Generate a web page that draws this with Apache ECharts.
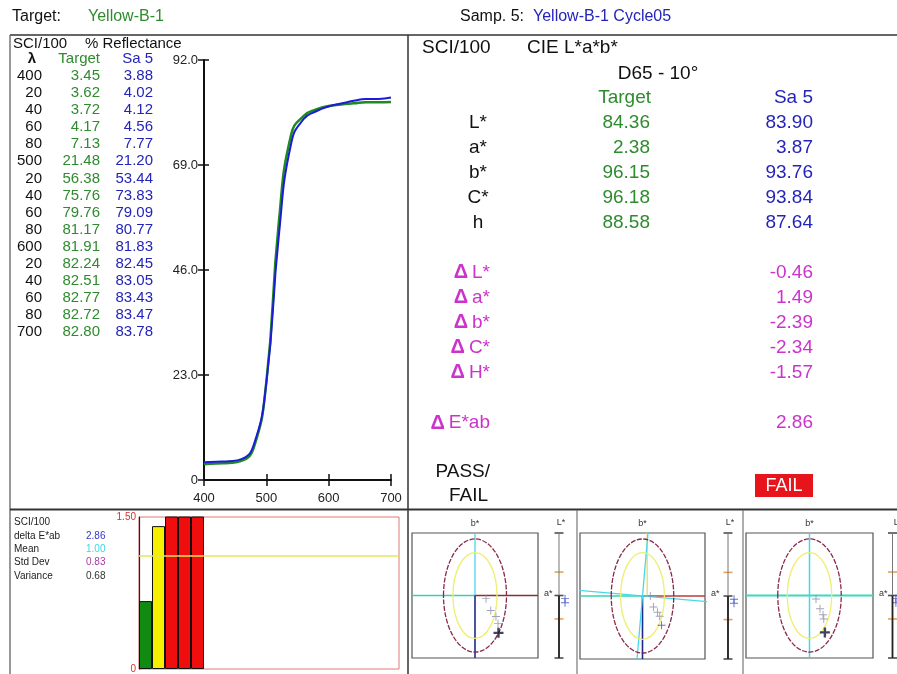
<!DOCTYPE html>
<html><head><meta charset="utf-8">
<script src="https://cdn.jsdelivr.net/npm/echarts@6/dist/echarts.min.js"></script>
<style>html,body{margin:0;padding:0;background:#fff}#c{width:897px;height:674px}</style>
</head><body><div id="c"></div>
<script>
// ---------------- data ----------------
const wavelengths = [400,420,440,460,480,500,520,540,560,580,600,620,640,660,680,700];
const wlLabels = ['400','20','40','60','80','500','20','40','60','80','600','20','40','60','80','700'];
const targetRefl = [3.45,3.62,3.72,4.17,7.13,21.48,56.38,75.76,79.76,81.17,81.91,82.24,82.51,82.77,82.72,82.80];
const sampleRefl = [3.88,4.02,4.12,4.56,7.77,21.20,53.44,73.83,79.09,80.77,81.83,82.45,83.05,83.43,83.47,83.78];
const reflMin = 0, reflMax = 92, reflStep = 23;
const wlMin = 400, wlMax = 700, wlStep = 100;

const cieLabels = ['L*','a*','b*','C*','h'];
const cieTarget = ['84.36','2.38','96.15','96.18','88.58'];
const cieSample = ['83.90','3.87','93.76','93.84','87.64'];
const deltaLabels = ['L*','a*','b*','C*','H*'];
const deltaValues = ['-0.46','1.49','-2.39','-2.34','-1.57'];
const deltaE = '2.86';
const passFail = 'FAIL';

const statLabels = ['delta E*ab','Mean','Std Dev','Variance'];
const statValues = ['2.86','1.00','0.83','0.68'];
const historyDE = [0.67,1.41,1.95,2.40,2.86];
const histSlots = 20;
const warnLimit = 1.12, failLimit = 1.50;

// a*/b* difference plots (three illuminant views)
const panelAB = [
  [[0.70,-0.20],[1.00,-0.96],[1.33,-1.35],[1.46,-1.80],[1.49,-2.39]],
  [[0.50,0.00],[0.70,-0.70],[0.96,-1.03],[1.10,-1.28],[1.22,-1.86]],
  [[0.41,-0.22],[0.66,-0.85],[0.85,-1.23],[0.90,-1.50],[0.97,-2.36]]
];
const panelDL = [[-0.20,-0.46],[-0.20,-0.46],[-0.20,-0.46]];
const abRange = 4, lRange = 4;
const tolOuter = [2.0,3.62], tolInner = [1.4,2.75];
const lTolMarks = [-1.5,1.5], lMainMarks = [-4,0,4];
const hueTiltDeg = -5;

// ---------------- layout/styling ----------------
const FONT = '"Liberation Sans", Arial, Helvetica, sans-serif';
const GREEN = '#2e8b2e', BLUE = '#2424b8', MAG = '#cc33cc';
const chart = echarts.init(document.getElementById('c'), null, {renderer:'canvas'});

function txt(x,y,text,size,color,align,extra){
  return Object.assign({type:'text', x:x, y:y, z:10, silent:true, style:{text:text, fill:color||'#111',
    font: size+'px '+FONT, textAlign:align||'left', align:align||'left', textVerticalAlign:'middle', verticalAlign:'middle'}}, extra||{});
}
function ln(x1,y1,x2,y2,color,w){
  return {type:'line', z:5, silent:true, shape:{x1:x1,y1:y1,x2:x2,y2:y2}, style:{stroke:color||'#444', lineWidth:w||1.5}};
}

const graphics = [];
// header
graphics.push(txt(12,17,'Target:',16,'#111'));
graphics.push(txt(88,17,'Yellow-B-1',16,GREEN));
graphics.push(txt(460,17,'Samp. 5:',16,'#111'));
graphics.push(txt(533,17,'Yellow-B-1 Cycle05',16,BLUE));
// frame lines
graphics.push(ln(10,35,897,35,'#333',1.5));
graphics.push(ln(10,35,10,674,'#555',1.2));
graphics.push(ln(408,35,408,674,'#333',1.5));
graphics.push(ln(10,509.5,897,509.5,'#333',1.8));
graphics.push(ln(577,510,577,674,'#777',1.2));
graphics.push(ln(743,510,743,674,'#777',1.2));

// left table
graphics.push(txt(13,44,'SCI/100',15,'#111'));
graphics.push(txt(85,44,'% Reflectance',15,'#111'));
graphics.push(txt(32,59,'λ',15,'#111','center',{style:{text:'λ',fill:'#111',font:'bold 15px '+FONT,textAlign:'center',align:'center',textVerticalAlign:'middle',verticalAlign:'middle'}}));
graphics.push(txt(100,59,'Target',15,GREEN,'right'));
graphics.push(txt(153,59,'Sa 5',15,BLUE,'right'));
wlLabels.forEach((w,i)=>{
  const y = 76 + i*17.07;
  graphics.push(txt(42,y,w,15,'#111','right'));
  graphics.push(txt(100,y,targetRefl[i].toFixed(2),15,GREEN,'right'));
  graphics.push(txt(153,y,sampleRefl[i].toFixed(2),15,BLUE,'right'));
});

// right table
graphics.push(txt(422,48,'SCI/100',19,'#111'));
graphics.push(txt(527,48,'CIE L*a*b*',19,'#111'));
graphics.push(txt(658,74,'D65 - 10°',19,'#111','center'));
graphics.push(txt(651,98,'Target',19,GREEN,'right'));
graphics.push(txt(813,98,'Sa 5',19,BLUE,'right'));
cieLabels.forEach((l,i)=>{
  const y = 122.5 + i*25;
  graphics.push(txt(478,y,l,19,'#111','center'));
  graphics.push(txt(650,y,cieTarget[i],19,GREEN,'right'));
  graphics.push(txt(813,y,cieSample[i],19,BLUE,'right'));
});
function deltaTxt(x,y,label){
  return {type:'text', x:x, y:y, z:10, silent:true, style:{text:'{d|Δ}'+label, fill:MAG, font:'19px '+FONT,
    textAlign:'right', align:'right', textVerticalAlign:'middle', verticalAlign:'middle',
    rich:{d:{fill:MAG, font:'bold 20px '+FONT, padding:[0,4,0,0]}}}};
}
deltaLabels.forEach((l,i)=>{
  const y = 272.5 + i*25;
  graphics.push(deltaTxt(490,y,l));
  graphics.push(txt(813,y,deltaValues[i],19,MAG,'right'));
});
graphics.push(deltaTxt(490,423,'E*ab'));
graphics.push(txt(813,423,deltaE,19,MAG,'right'));
graphics.push(txt(490,472,'PASS/',19,'#111','right'));
graphics.push(txt(488,496,'FAIL',19,'#111','right'));
graphics.push({type:'rect', z:8, silent:true, shape:{x:755,y:474,width:58,height:23}, style:{fill:'#e8141c'}});
graphics.push(txt(784,486,passFail,18,'#fff','center'));

// bottom-left statistics
graphics.push(txt(14,522,'SCI/100',10,'#222'));
const statColors = ['#3535c8','#3ed6e6','#a53ca5','#333'];
statLabels.forEach((l,i)=>{
  const y = 536 + i*13.3;
  graphics.push(txt(14,y,l,10,'#222'));
  graphics.push(txt(86,y,statValues[i],10,statColors[i]));
});

// ellipse panel geometry
const panels = [
  {left:412, top:533, w:126, h:125, lx:559},
  {left:580, top:533, w:125, h:126, lx:728},
  {left:746, top:533, w:127, h:125, lx:896}
];
panels.forEach(p=>{
  graphics.push(txt(p.left+p.w/2, 524, 'b*', 9, '#333','center'));
  graphics.push(txt(p.left+p.w+6, 594, 'a*', 9, '#333','left'));
  graphics.push(txt(p.lx+2, 523, 'L*', 9, '#333','center'));
});

// ---------------- series / grids ----------------
const grids = [], xAxes = [], yAxes = [], series = [];
function addGrid(g){ grids.push(g); return grids.length-1; }

// spectral grid
const gS = addGrid({left:204, top:60, width:187, height:420});
const axLbl = {color:'#222', fontFamily:FONT, fontSize:13};
xAxes.push({gridIndex:gS, type:'value', min:wlMin, max:wlMax, interval:wlStep,
  axisLine:{lineStyle:{color:'#111',width:2}}, axisTick:{length:6,lineStyle:{color:'#111',width:1.5}},
  axisLabel:Object.assign({margin:12},axLbl), splitLine:{show:false}});
xAxes.push({gridIndex:gS, type:'value', min:wlMin, max:wlMax, interval:wlStep, position:'bottom',
  axisLine:{show:false}, axisTick:{inside:true,length:6,lineStyle:{color:'#111',width:1.5}},
  axisLabel:{show:false}, splitLine:{show:false}});
yAxes.push({gridIndex:gS, type:'value', min:reflMin, max:reflMax, interval:reflStep,
  axisLine:{show:true,lineStyle:{color:'#111',width:2}}, axisTick:{show:true,length:6,lineStyle:{color:'#111',width:1.5}},
  axisLabel:Object.assign({margin:6, formatter:v=>v===0?'0':v.toFixed(1)},axLbl), splitLine:{show:false}});
yAxes.push({gridIndex:gS, type:'value', min:reflMin, max:reflMax, interval:reflStep, position:'left',
  axisLine:{show:false}, axisTick:{show:true,inside:true,length:5,lineStyle:{color:'#111',width:1.5}},
  axisLabel:{show:false}, splitLine:{show:false}});
series.push({type:'line', xAxisIndex:0, yAxisIndex:0, smooth:0.5, showSymbol:false,
  data:wavelengths.map((w,i)=>[w,targetRefl[i]]), lineStyle:{color:'#1f8a1f',width:2.5}, z:3, silent:true});
series.push({type:'line', xAxisIndex:0, yAxisIndex:0, smooth:0.5, showSymbol:false,
  data:wavelengths.map((w,i)=>[w,sampleRefl[i]]), lineStyle:{color:'#1c1cd8',width:2}, z:4, silent:true});

// history bar grid
const gB = addGrid({left:139, top:517, width:260, height:157, show:true, borderColor:'#e07a7a', borderWidth:1});
const xB = xAxes.length;
xAxes.push({gridIndex:gB, type:'category', data:Array.from({length:histSlots},(_,i)=>String(i+1)),
  axisLine:{show:false}, axisTick:{show:false}, axisLabel:{show:false}});
const yB = yAxes.length;
yAxes.push({gridIndex:gB, type:'value', min:0, max:failLimit, interval:failLimit,
  axisLine:{show:true,lineStyle:{color:'#222',width:1.2}}, axisTick:{show:false}, splitLine:{show:false},
  axisLabel:{margin:3, fontSize:10, fontFamily:FONT, color:v=>(v===0?'#222':'#d83030'), formatter:v=>v===0?'0':v.toFixed(2)}});
series.push({type:'bar', xAxisIndex:xB, yAxisIndex:yB, barCategoryGap:'0%', clip:true, silent:true,
  data:historyDE.map(v=>({value:v, itemStyle:{color: v<1.0?'#118a11':(v<failLimit?'#f4f000':'#f00d0d')}})),
  itemStyle:{borderColor:'#111',borderWidth:1},
  markLine:{silent:true, symbol:'none', label:{show:false}, lineStyle:{color:'#e6e65a',width:1.5,type:'solid'},
    data:[{yAxis:warnLimit}]}});

// ellipse panels
const crossPath = 'path://M4.4,0H5.6V10H4.4ZM0,4.4H10V5.6H0Z';
const crossBold = 'path://M3.8,0H6.2V10H3.8ZM0,3.8H10V6.2H0Z';
const hue = hueTiltDeg*Math.PI/180;
panels.forEach((p,pi)=>{
  const g = addGrid({left:p.left, top:p.top, width:p.w, height:p.h, show:true, borderColor:'#555', borderWidth:1.2});
  const xi = xAxes.length, yi = yAxes.length;
  xAxes.push({gridIndex:g, type:'value', min:-abRange, max:abRange, show:false});
  yAxes.push({gridIndex:g, type:'value', min:-abRange, max:abRange, show:false});
  const seg = (data,color,w)=>series.push({type:'line', xAxisIndex:xi, yAxisIndex:yi, data:data, showSymbol:false,
    lineStyle:{color:color,width:w||1.3}, silent:true, z:2});
  const R = abRange;
  if (pi===0){
    seg([[-R,0],[0,0]],'#3cd0b0'); seg([[0,0],[R,0]],'#8a3030');
    seg([[0,0],[0,R]],'#46d8ea'); seg([[0,0],[0,-R]],'#1e2a8a',1.6);
  } else if (pi===1){
    seg([[-R,0],[0,0]],'#3cd0b0'); seg([[0,0],[R,0]],'#c03a3a');
    seg([[0.3,0],[0.3,R]],'#e0e060'); seg([[0,0],[0,-R]],'#1e2a8a',1.6);
    const L = R*1.2;
    seg([[-L*Math.cos(hue),-L*Math.sin(hue)],[L*Math.cos(hue),L*Math.sin(hue)]],'#46d8ea');
    seg([[L*Math.sin(hue),-L*Math.cos(hue)],[-L*Math.sin(hue),L*Math.cos(hue)]],'#46d8ea');
  } else {
    seg([[-R,0],[R,0]],'#3cd8c0',1.8); seg([[0,-R],[0,R]],'#46d8ea',1.5);
  }
  const ell = (r,color,dash)=>series.push({type:'custom', xAxisIndex:xi, yAxisIndex:yi, silent:true, z:3,
    data:[[0,0,r[0],r[1]]],
    renderItem:(params,api)=>{
      const c = api.coord([api.value(0),api.value(1)]);
      const s = api.size([api.value(2),api.value(3)]);
      return {type:'ellipse', shape:{cx:c[0],cy:c[1],rx:s[0],ry:s[1]},
        style:{fill:null, stroke:color, lineWidth:1.3, lineDash:dash}};
    }});
  ell(tolInner,'#eeee70',null);
  ell(tolOuter,'#8a2a4a',[5,1.5]);
  const pts = panelAB[pi];
  series.push({type:'scatter', xAxisIndex:xi, yAxisIndex:yi, data:pts.slice(0,-1), symbol:crossPath, symbolSize:8,
    itemStyle:{color:'#8c8ca8'}, silent:true, z:5});
  series.push({type:'scatter', xAxisIndex:xi, yAxisIndex:yi, data:pts.slice(-1), symbol:pi===1?crossPath:crossBold, symbolSize:pi===1?8:10,
    itemStyle:{color:pi===1?'#4a4a90':'#141436'}, silent:true, z:6});

  // L* scale
  const gl = addGrid({left:p.lx-8, top:p.top, width:16, height:p.h});
  const xl = xAxes.length, yl = yAxes.length;
  xAxes.push({gridIndex:gl, type:'value', min:-1, max:1, show:false});
  yAxes.push({gridIndex:gl, type:'value', min:-lRange, max:lRange, show:false});
  series.push({type:'line', xAxisIndex:xl, yAxisIndex:yl, data:[[0,-lRange],[0,lRange]], showSymbol:false,
    lineStyle:{color:'#777',width:1}, silent:true, clip:false});
  series.push({type:'line', xAxisIndex:xl, yAxisIndex:yl, data:[[0,-lRange],[0,0]], showSymbol:false,
    lineStyle:{color:'#222',width:1.8}, silent:true, clip:false});
  series.push({type:'scatter', xAxisIndex:xl, yAxisIndex:yl, data:lMainMarks.map(v=>[0,v]), symbol:'rect', symbolSize:[9,1.6],
    itemStyle:{color:'#222'}, silent:true, clip:false});
  series.push({type:'scatter', xAxisIndex:xl, yAxisIndex:yl, data:lTolMarks.map(v=>[0,v]), symbol:'rect', symbolSize:[9,1.6],
    itemStyle:{color:'#e08a30'}, silent:true, clip:false});
  series.push({type:'scatter', xAxisIndex:xl, yAxisIndex:yl, data:panelDL[pi].map(v=>[0.75,v]), symbol:crossPath, symbolSize:8,
    itemStyle:{color:'#3a4ac0'}, silent:true, clip:false});
});

chart.setOption({
  backgroundColor:'#ffffff',
  animation:false,
  grid:grids, xAxis:xAxes, yAxis:yAxes, series:series,
  graphic:{elements:graphics}
});
</script>
</body></html>
